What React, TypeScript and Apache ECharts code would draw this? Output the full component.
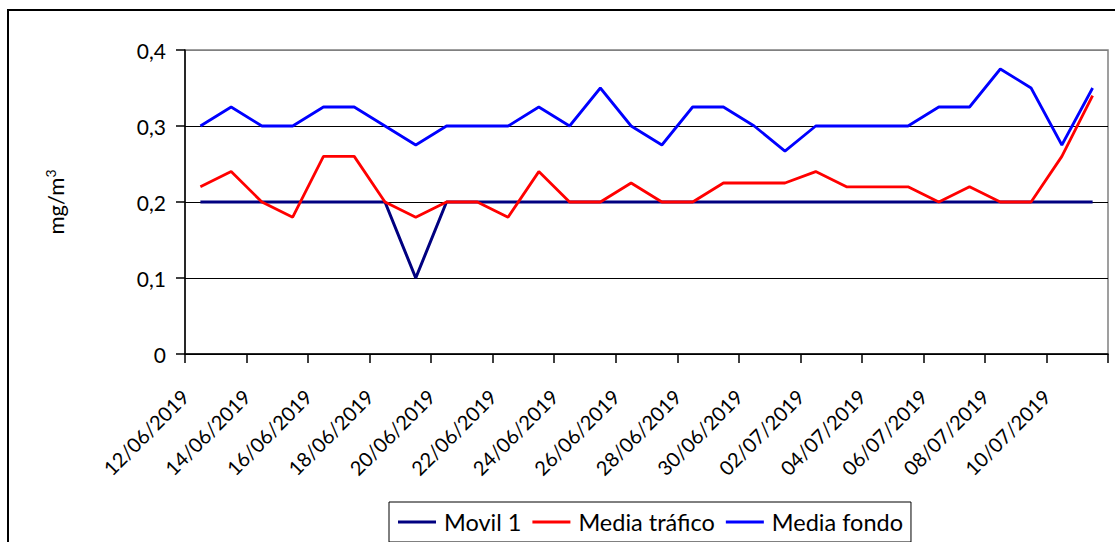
import React, { useEffect, useRef } from "react";
import * as echarts from "echarts";

const dates = [
  "12/06/2019", "13/06/2019", "14/06/2019", "15/06/2019", "16/06/2019", "17/06/2019",
  "18/06/2019", "19/06/2019", "20/06/2019", "21/06/2019", "22/06/2019", "23/06/2019",
  "24/06/2019", "25/06/2019", "26/06/2019", "27/06/2019", "28/06/2019", "29/06/2019",
  "30/06/2019", "01/07/2019", "02/07/2019", "03/07/2019", "04/07/2019", "05/07/2019",
  "06/07/2019", "07/07/2019", "08/07/2019", "09/07/2019", "10/07/2019", "11/07/2019",
];

const movil1 = [
  0.2, 0.2, 0.2, 0.2, 0.2, 0.2, 0.2, 0.1, 0.2, 0.2,
  0.2, 0.2, 0.2, 0.2, 0.2, 0.2, 0.2, 0.2, 0.2, 0.2,
  0.2, 0.2, 0.2, 0.2, 0.2, 0.2, 0.2, 0.2, 0.2, 0.2,
];

const mediaTrafico = [
  0.22, 0.24, 0.2, 0.18, 0.26, 0.26, 0.2, 0.18, 0.2, 0.2,
  0.18, 0.24, 0.2, 0.2, 0.225, 0.2, 0.2, 0.225, 0.225, 0.225,
  0.24, 0.22, 0.22, 0.22, 0.2, 0.22, 0.2, 0.2, 0.26, 0.34,
];

const mediaFondo = [
  0.3, 0.325, 0.3, 0.3, 0.325, 0.325, 0.3, 0.275, 0.3, 0.3,
  0.3, 0.325, 0.3, 0.35, 0.3, 0.275, 0.325, 0.325, 0.3, 0.267,
  0.3, 0.3, 0.3, 0.3, 0.325, 0.325, 0.375, 0.35, 0.275, 0.35,
];

const yTicks = [0, 0.1, 0.2, 0.3, 0.4];

export default function App() {
  const ref = useRef<HTMLDivElement>(null);

  useEffect(() => {
    if (!ref.current) return;
    const chart = echarts.init(ref.current, undefined, { renderer: "svg" });
    const fmtY = (v: number) => (v === 0 ? "0" : v.toFixed(1).replace(".", ","));
    chart.setOption({
      animation: false,
      backgroundColor: "#ffffff",
      textStyle: { fontFamily: "Lato", color: "#000" },
      graphic: [
        {
          type: "rect",
          z: -10,
          shape: { x: 8, y: 10, width: 1200, height: 600 },
          style: { fill: "none", stroke: "#000", lineWidth: 2 },
        },
      ],
      grid: {
        left: 185,
        right: 7,
        top: 50,
        bottom: 188,
        show: true,
        borderColor: "#808080",
        borderWidth: 1.5,
        backgroundColor: "transparent",
      },
      legend: {
        left: 389,
        top: 502,
        padding: [8, 8, 8, 9],
        borderColor: "#000",
        borderWidth: 1,
        itemGap: 11,
        itemWidth: 38,
        itemHeight: 3,
        icon: "rect",
        textStyle: { fontSize: 23.5, fontFamily: "Lato", color: "#000", padding: [0, 0, 0, 3] },
        data: ["Movil 1", "Media tráfico", "Media fondo"],
      },
      xAxis: [
        {
          type: "category",
          data: dates,
          boundaryGap: true,
          position: "bottom",
          axisLine: { lineStyle: { color: "#000", width: 1.5 } },
          axisTick: { show: true, interval: 1, length: 9, lineStyle: { color: "#000", width: 1.5 } },
          axisLabel: { show: false },
          splitLine: { show: false },
        },
        {
          type: "value",
          min: 0,
          max: dates.length,
          interval: 2,
          position: "bottom",
          axisLine: { show: false },
          axisTick: { show: false },
          splitLine: { show: false },
          axisLabel: {
            rotate: 45,
            margin: 39,
            fontSize: 20,
            fontFamily: "Lato",
            color: "#000",
            showMinLabel: true,
            showMaxLabel: true,
            formatter: (v: number) => (v < dates.length ? dates[v] : ""),
          },
        },
      ],
      yAxis: {
        type: "value",
        min: 0,
        max: 0.4,
        interval: 0.1,
        name: "{b|mg/m}{s|3}",
        nameLocation: "middle",
        nameRotate: 90,
        nameGap: 118,
        nameTextStyle: {
          rich: {
            b: { fontSize: 22, fontFamily: "Lato", color: "#000", lineHeight: 24 },
            s: { fontSize: 14, fontFamily: "Lato", color: "#000", verticalAlign: "top", lineHeight: 24 },
          },
        },
        axisLine: { show: true, lineStyle: { color: "#000", width: 1.5 } },
        axisTick: { show: true, length: 9, lineStyle: { color: "#000", width: 1.5 } },
        axisLabel: {
          margin: 19,
          fontSize: 21,
          fontFamily: "Lato",
          color: "#000",
          formatter: fmtY,
        },
        splitLine: {
          show: true,
          lineStyle: { color: yTicks.map((t) => (t === 0.4 ? "#808080" : "#000")), width: 1.2 },
        },
      },
      series: [
        {
          name: "Movil 1",
          type: "line",
          data: movil1,
          showSymbol: false,
          symbol: "none",
          lineStyle: { color: "#000080", width: 3 },
          itemStyle: { color: "#000080" },
        },
        {
          name: "Media tráfico",
          type: "line",
          data: mediaTrafico,
          showSymbol: false,
          symbol: "none",
          lineStyle: { color: "#ff0000", width: 2.8 },
          itemStyle: { color: "#ff0000" },
        },
        {
          name: "Media fondo",
          type: "line",
          data: mediaFondo,
          showSymbol: false,
          symbol: "none",
          lineStyle: { color: "#0000ff", width: 2.8 },
          itemStyle: { color: "#0000ff" },
        },
      ],
    });
    return () => chart.dispose();
  }, []);

  return (
    <div
      ref={ref}
      style={{ position: "fixed", left: 0, top: 0, width: 1115, height: 542, background: "#fff" }}
    />
  );
}
